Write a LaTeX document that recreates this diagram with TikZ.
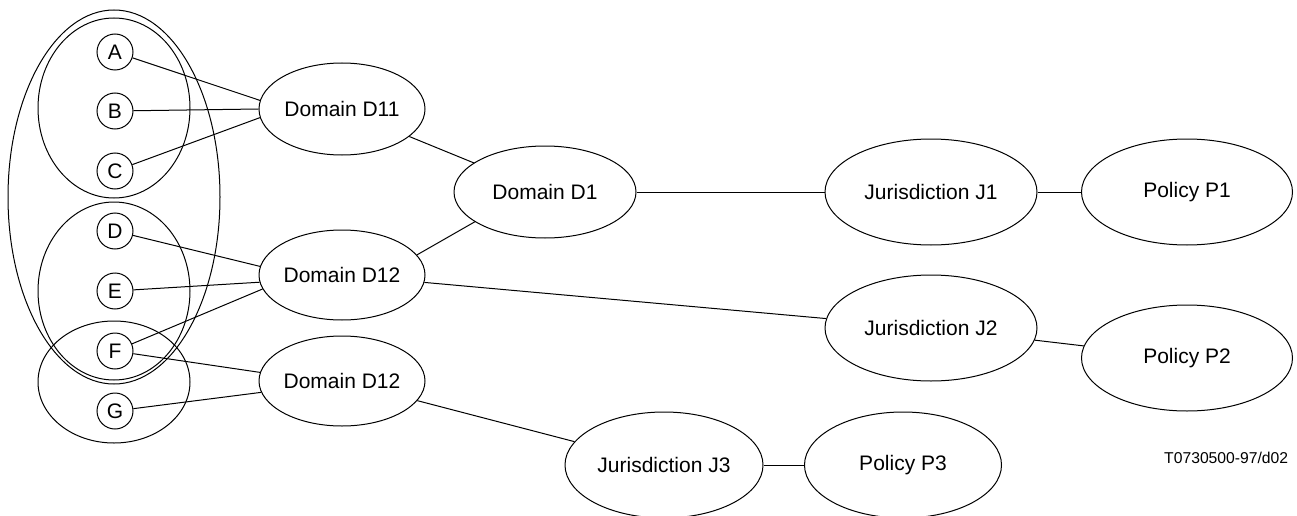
\documentclass[tikz,border=0pt]{standalone}
\usepackage{fontspec}
\setmainfont{Liberation Sans}
\usetikzlibrary{shapes.geometric}
\begin{document}
\begin{tikzpicture}[x=1pt,y=-1pt,line width=1pt,
  every node/.style={font=\fontsize{21}{25}\selectfont},
  lett/.style={draw,circle,minimum size=36pt,inner sep=0pt},
  ell/.style={draw,ellipse,inner sep=0pt},
  grp/.style={draw,line width=1pt},
  lnk/.style={line width=1pt}]
\useasboundingbox (0,0) rectangle (1297,516);
\clip (0,0) rectangle (1297,516);
% grouping ellipses
\draw[grp] (114,197) ellipse [x radius=106, y radius=187];
\draw[grp] (114,108) ellipse [x radius=76, y radius=90];
\draw[grp] (114,291) ellipse [x radius=76, y radius=89];
\draw[grp] (114,382) ellipse [x radius=76, y radius=61];
% letter nodes
\node[lett] (A) at (115,52) {A};
\node[lett] (B) at (115,111) {B};
\node[lett] (C) at (115,171) {C};
\node[lett] (D) at (115,231) {D};
\node[lett] (E) at (115,291) {E};
\node[lett] (F) at (115,351) {F};
\node[lett] (G) at (115,411) {G};
% domains
\node[ell,minimum width=166pt,minimum height=92pt] (D11) at (342,109) {Domain D11};
\node[ell,minimum width=166pt,minimum height=90pt] (D12a) at (342,275) {Domain D12};
\node[ell,minimum width=166pt,minimum height=90pt] (D12b) at (342,381) {Domain D12};
\node[ell,minimum width=182pt,minimum height=92pt] (D1) at (545,192) {Domain D1};
% jurisdictions and policies
\node[ell,minimum width=212pt,minimum height=106pt] (J1) at (931,192) {Jurisdiction J1};
\node[ell,minimum width=211pt,minimum height=106pt] (P1) at (1187,192) {Policy P1};
\node[ell,minimum width=212pt,minimum height=106pt] (J2) at (931,328) {Jurisdiction J2};
\node[ell,minimum width=211pt,minimum height=106pt] (P2) at (1187,358) {Policy P2};
\node[ell,minimum width=198pt,minimum height=106pt] (J3) at (664,465) {Jurisdiction J3};
\node[ell,minimum width=197pt,minimum height=106pt] (P3) at (903,465) {Policy P3};
% label
\node[font=\fontsize{15.7}{18}\selectfont,anchor=east] (lbl) at (1292,458) {T0730500-97/d02};
% connectors
\draw[lnk] (A) -- (D11.174);
\draw[lnk] (B) -- (D11.180);
\draw[lnk] (C) -- (D11.186);
\draw[lnk] (D) -- (D12a.174);
\draw[lnk] (E) -- (D12a.185);
\draw[lnk] (F) -- (D12a.190);
\draw[lnk] (F) -- (D12b.174);
\draw[lnk] (G) -- (D12b.188);
\draw[lnk] (D11) -- (D1);
\draw[lnk] (D12a.15) -- (D1.203);
\draw[lnk] (D1) -- (J1);
\draw[lnk] (J1) -- (P1);
\draw[lnk] (D12a) -- (J2);
\draw[lnk] (J2) -- (P2);
\draw[lnk] (D12b) -- (J3);
\draw[lnk] (J3) -- (P3);
\end{tikzpicture}
\end{document}
